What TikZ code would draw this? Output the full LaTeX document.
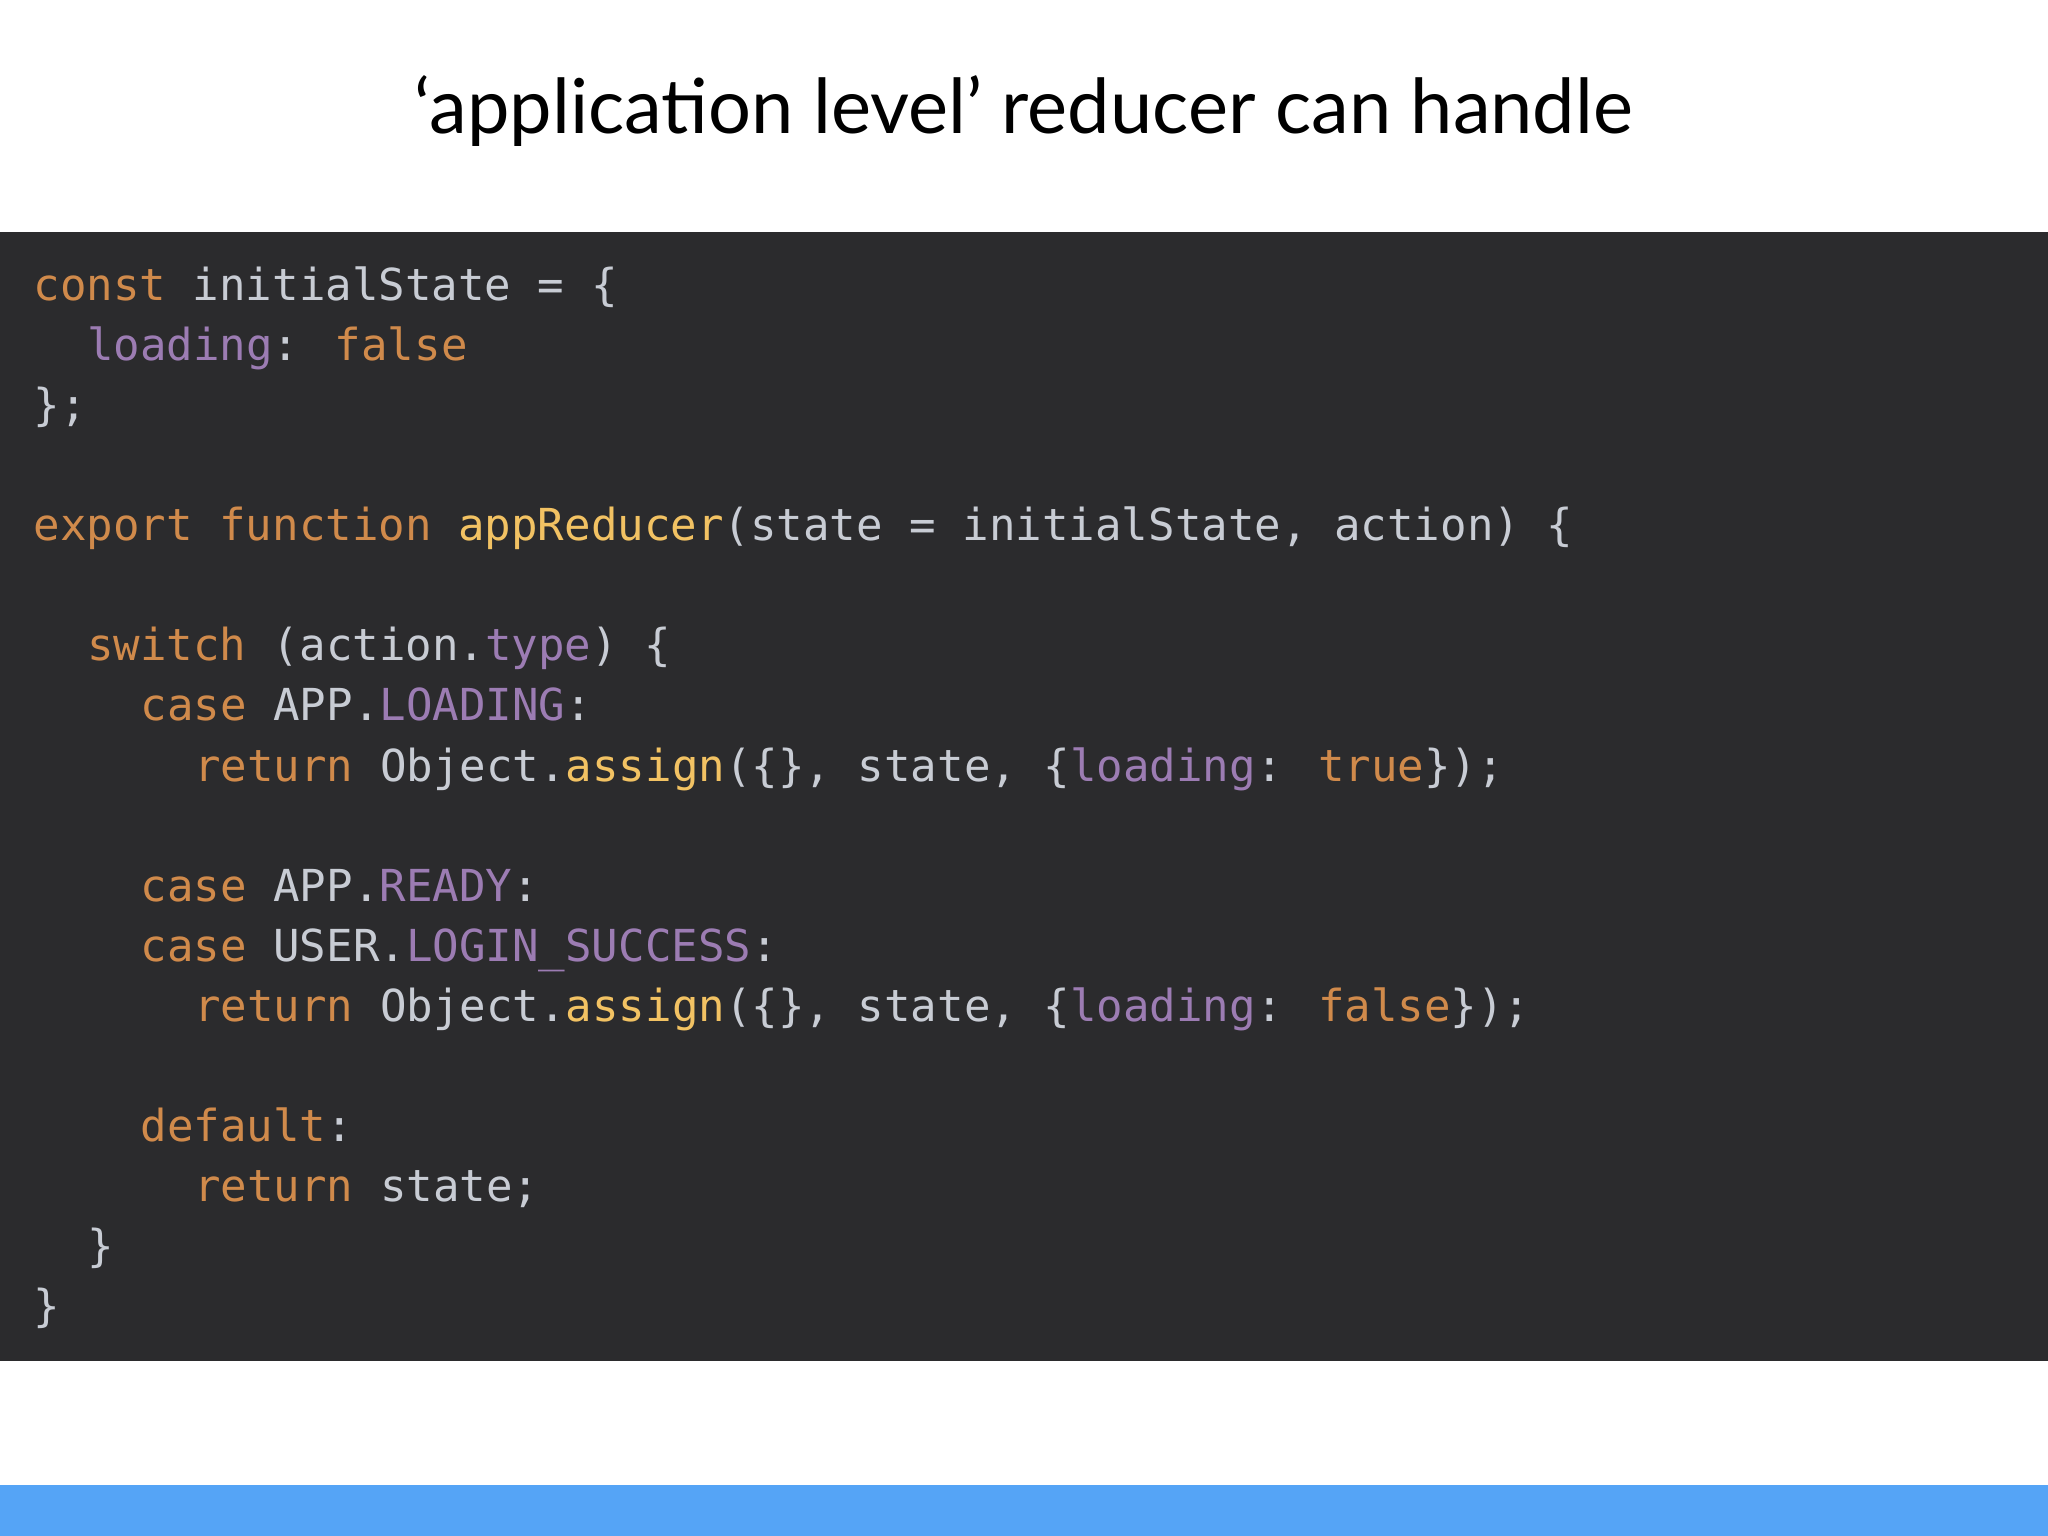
\documentclass[tikz,border=0pt]{standalone}
\usepackage{fontspec}
\setmainfont{Lato}
\newfontfamily\codefont{DejaVu Sans Mono}
\definecolor{bg}{HTML}{2B2B2D}
\definecolor{kwc}{HTML}{D08A4B}
\definecolor{prc}{HTML}{9C7CB3}
\definecolor{fnc}{HTML}{F2C263}
\definecolor{txc}{HTML}{C8CCD4}
\definecolor{band}{HTML}{55A4F6}
\newcommand\kw[1]{\textcolor{kwc}{#1}}
\newcommand\pr[1]{\textcolor{prc}{#1}}
\newcommand\fn[1]{\textcolor{fnc}{#1}}
\tikzset{codeline/.style={anchor=base west,inner sep=0pt,text=txc,font=\codefont\fontsize{9.6pt}{11pt}\selectfont}}
\begin{document}
\begin{tikzpicture}[x=0.01cm,y=-0.01cm]
\useasboundingbox (0,0) rectangle (1568,1176);
\fill[white] (0,0) rectangle (1568,1176);
\fill[bg] (0,178) rectangle (1568,1042);
\fill[band] (0,1137) rectangle (1568,1176);
\node[font=\fontsize{16.5pt}{20pt}\selectfont,text=black] (title) at (784,85) {‘application level’ reducer can handle};
\node[codeline] (l1) at (25,230) {\kw{const} initialState = \{};
\node[codeline] (l2) at (66,276) {\pr{loading}: \kw{false}};
\node[codeline] (l3) at (25,322) {\};};
\node[codeline] (l5) at (25,414) {\kw{export} \kw{function} \fn{appReducer}(state = initialState, action) \{};
\node[codeline] (l7) at (66,506) {\kw{switch} (action.\pr{type}) \{};
\node[codeline] (l8) at (107,552) {\kw{case} APP.\pr{LOADING}:};
\node[codeline] (l9) at (148,598) {\kw{return} Object.\fn{assign}(\{\}, state, \{\pr{loading}: \kw{true}\});};
\node[codeline] (l11) at (107,690) {\kw{case} APP.\pr{READY}:};
\node[codeline] (l12) at (107,736) {\kw{case} USER.\pr{LOGIN\_SUCCESS}:};
\node[codeline] (l13) at (148,782) {\kw{return} Object.\fn{assign}(\{\}, state, \{\pr{loading}: \kw{false}\});};
\node[codeline] (l15) at (107,874) {\kw{default}:};
\node[codeline] (l16) at (148,920) {\kw{return} state;};
\node[codeline] (l17) at (66,966) {\}};
\node[codeline] (l18) at (25,1012) {\}};
\end{tikzpicture}
\end{document}
